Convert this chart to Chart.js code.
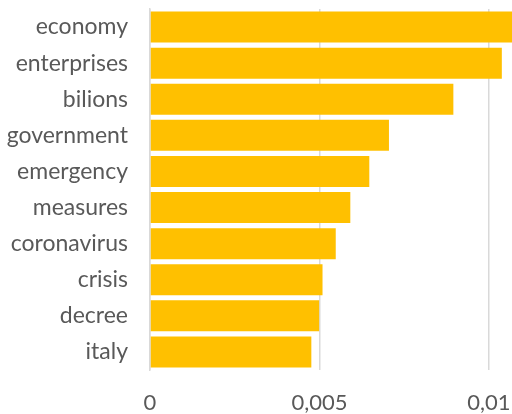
<!DOCTYPE html>
<html>
<head>
<meta charset="utf-8">
<script src="https://cdn.jsdelivr.net/npm/chart.js@4/dist/chart.umd.min.js"></script>
<style>
  html, body { margin: 0; padding: 0; background: #fff; }
  #wrap { width: 512px; height: 414px; position: relative; }
</style>
</head>
<body>
<div id="wrap"><canvas id="chartTermos"></canvas></div>
<script>
// Termos mais relevantes e respectivos pesos
const termos = ['economy', 'enterprises', 'bilions', 'government', 'emergency',
                'measures', 'coronavirus', 'crisis', 'decree', 'italy'];
const pesos = [0.0107, 0.01038, 0.00895, 0.00705, 0.00647,
               0.00591, 0.00548, 0.00509, 0.00499, 0.00476];
const ticksX = [0, 0.005, 0.01];

const corTexto = '#595959';
const corGrade = '#d9d9d9';

function formatarDecimal(v) {
    return String(parseFloat(v.toFixed(4))).replace('.', ',');
}

// Remove as margens que o Chart.js reserva para os rótulos das pontas
function semMargens(axis) {
    axis.paddingTop = 0;
    axis.paddingBottom = 0;
    axis.paddingLeft = 0;
    axis.paddingRight = 0;
}

const ctx = document.getElementById('chartTermos').getContext('2d');
new Chart(ctx, {
    type: 'bar',
    data: {
        labels: termos,
        datasets: [{
            data: pesos,
            backgroundColor: '#ffc000',
            categoryPercentage: 1,
            barPercentage: 0.86
        }]
    },
    options: {
        indexAxis: 'y',
        responsive: true,
        maintainAspectRatio: false,
        animation: false,
        layout: { padding: { top: 9, right: 0, bottom: 0, left: 0 } },
        plugins: { legend: { display: false }, tooltip: { enabled: false } },
        scales: {
            x: {
                min: 0,
                max: 0.01068,
                afterBuildTicks: axis => { axis.ticks = ticksX.map(v => ({ value: v })); },
                afterFit: axis => { axis.height = 44; semMargens(axis); },
                grid: { color: corGrade, lineWidth: 1.5, drawTicks: false },
                border: { display: false },
                ticks: {
                    color: corTexto,
                    font: { family: 'Lato', size: 22 },
                    padding: 20,
                    maxRotation: 0,
                    callback: v => formatarDecimal(v)
                }
            },
            y: {
                afterFit: axis => { axis.width = 150; semMargens(axis); },
                grid: { display: false, drawTicks: false },
                border: { display: true, color: corGrade, width: 1.5 },
                ticks: {
                    color: corTexto,
                    font: { family: 'Lato', size: 23 },
                    padding: 22
                }
            }
        }
    }
});
</script>
</body>
</html>
